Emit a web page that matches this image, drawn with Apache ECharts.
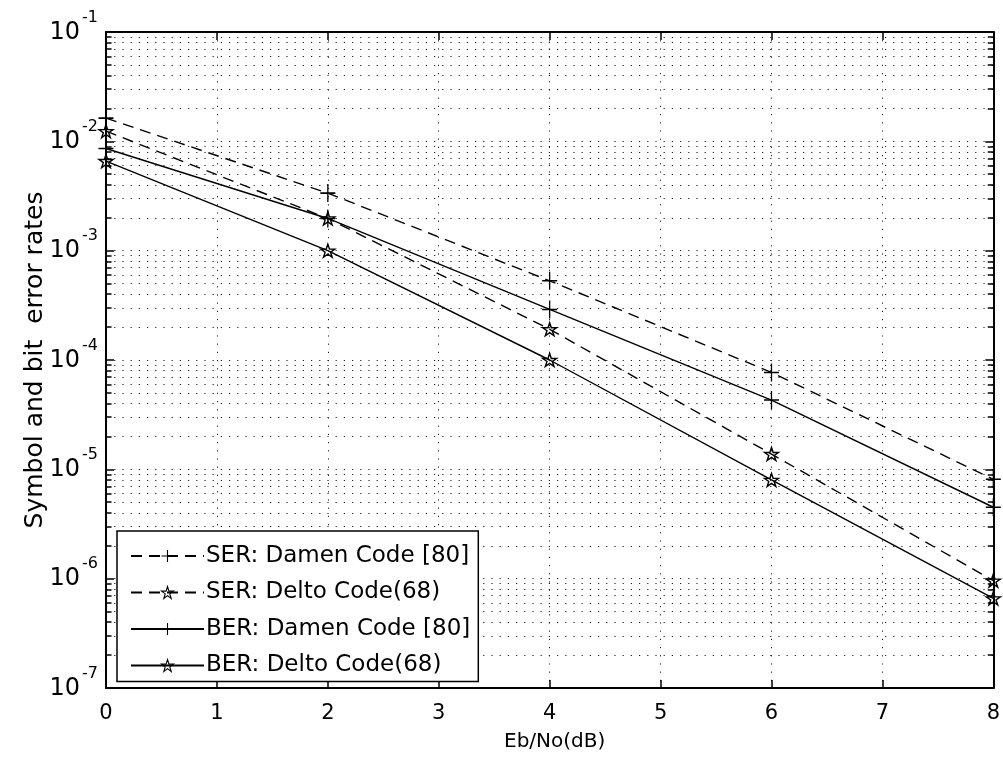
<!DOCTYPE html>
<html>
<head>
<meta charset="utf-8">
<script src="https://cdn.jsdelivr.net/npm/echarts@6/dist/echarts.min.js"></script>
<style>
html,body{margin:0;padding:0;background:#fff;}
#chart{width:1003px;height:760px;}
</style>
</head>
<body>
<div id="chart"></div>
<script>
// ---- data ----
const ebNo = [0, 2, 4, 6, 8];
const serDamen = [0.0163, 0.00336, 0.00053, 0.000077, 0.0000081];
const serDelto = [0.0124, 0.00197, 0.000191, 0.0000138, 0.00000096];
const berDamen = [0.0086, 0.00197, 0.00029, 0.000043, 0.0000045];
const berDelto = [0.0066, 0.00100, 0.000100, 0.0000080, 0.00000066];
const seriesNames = ['SER: Damen Code [80]', 'SER: Delto Code(68)', 'BER: Damen Code [80]', 'BER: Delto Code(68)'];
const xTickLabels = ['0','1','2','3','4','5','6','7','8'];
const yDecades = [-7, -6, -5, -4, -3, -2, -1];
const xTitle = 'Eb/No(dB)';
const yTitle = 'Symbol and bit  error rates';

// ---- helpers ----
const FONT = 'DejaVu Sans';
const plusPath = 'path://M50,0L50,100M0,50L100,50';
const starPath = 'path://M0,-100L22.45,-30.9L95.1,-30.9L36.3,11.8L58.8,80.9L0,38.2L-58.8,80.9L-36.3,11.8L-95.1,-30.9L-22.45,-30.9Z';

const minorVals = [];
for (let k = -7; k <= -2; k++) {
  for (let m = 2; m <= 9; m++) minorVals.push(+(m * Math.pow(10, k)).toPrecision(3));
}
const xMin = 0, xMax = 8;
const tickLenX = 0.05;

const gridMarkLines = minorVals.map(v => ({ yAxis: v }));
const tickMarkLines = [];
minorVals.forEach(v => {
  tickMarkLines.push([{ coord: [xMin, v] }, { coord: [xMin + tickLenX, v] }]);
  tickMarkLines.push([{ coord: [xMax - tickLenX, v] }, { coord: [xMax, v] }]);
});

function mkSeries(name, data, dashed, symbol, size) {
  return {
    name: name,
    type: 'line',
    data: ebNo.map((x, i) => [x, data[i]]),
    symbol: symbol,
    symbolSize: size,
    showAllSymbol: true,
    clip: false,
    z: 3,
    lineStyle: { color: '#000', width: 1.4, type: dashed ? [11, 7] : 'solid' },
    itemStyle: { color: 'rgba(0,0,0,0)', borderColor: '#000', borderWidth: 1.4 },
    emphasis: { disabled: true },
    animation: false
  };
}

const chart = echarts.init(document.getElementById('chart'), null, { renderer: 'canvas' });
const dotted = { color: '#222', width: 1, type: [1.2, 7] };

const option = {
  backgroundColor: '#fff',
  animation: false,
  textStyle: { fontFamily: FONT, color: '#000' },
  grid: { left: 106, right: 8, top: 32, bottom: 72, containLabel: false },
  legend: {
    orient: 'vertical',
    left: 117,
    top: 531,
    align: 'left',
    backgroundColor: '#fff',
    borderColor: '#000',
    borderWidth: 1.5,
    borderRadius: 0,
    padding: [12, 8, 3, 13],
    itemGap: 10.5,
    itemWidth: 73,
    itemHeight: 15,
    itemStyle: { borderWidth: 1.1 },
    textStyle: { fontFamily: FONT, fontSize: 23, lineHeight: 26, color: '#000', padding: [0, 0, 0, -3] },
    data: seriesNames,
    selectedMode: false
  },
  xAxis: [{
    type: 'value', min: xMin, max: xMax, interval: 1,
    axisLine: { show: true, lineStyle: { color: '#000', width: 2 } },
    axisTick: { show: true, inside: true, length: 8, lineStyle: { color: '#000', width: 1.5 } },
    axisLabel: { color: '#000', fontSize: 21, fontFamily: FONT, margin: 15,
      formatter: v => xTickLabels[Math.round(v)] },
    splitLine: { show: true, lineStyle: dotted },
    name: xTitle, nameLocation: 'middle', nameGap: 44,
    nameTextStyle: { fontSize: 20, color: '#000', fontFamily: FONT, padding: [0, 0, 0, 10] }
  }, {
    type: 'value', min: xMin, max: xMax, interval: 1, position: 'top',
    axisLine: { show: true, onZero: false, lineStyle: { color: '#000', width: 2 } },
    axisTick: { show: true, inside: true, length: 8, lineStyle: { color: '#000', width: 1.5 } },
    axisLabel: { show: false }, splitLine: { show: false }
  }],
  yAxis: [{
    type: 'log', logBase: 10, min: 1e-7, max: 1e-1, splitNumber: 6,
    axisLine: { show: true, lineStyle: { color: '#000', width: 2 } },
    axisTick: { show: true, inside: true, length: 8, lineStyle: { color: '#000', width: 1.5 } },
    axisLabel: {
      color: '#000', margin: 8, padding: [0, 0, 21, 0],
      formatter: v => '{a|10}{b|' + Math.round(Math.log10(v)) + '}',
      rich: {
        a: { fontSize: 24, lineHeight: 24, fontFamily: FONT, color: '#000', verticalAlign: 'top', padding: [11, 0, 0, 0] },
        b: { fontSize: 16, lineHeight: 16, fontFamily: FONT, color: '#000', verticalAlign: 'top', padding: [0, 0, 0, 2] }
      }
    },
    splitLine: { show: true, lineStyle: dotted },
    name: yTitle, nameLocation: 'middle', nameGap: 58, nameRotate: 90, nameMoveOverlap: false,
    nameTextStyle: { fontSize: 25, color: '#000', fontFamily: FONT }
  }, {
    type: 'log', logBase: 10, min: 1e-7, max: 1e-1, splitNumber: 6, position: 'right',
    axisLine: { show: true, onZero: false, lineStyle: { color: '#000', width: 2 } },
    axisTick: { show: true, inside: true, length: 8, lineStyle: { color: '#000', width: 1.5 } },
    axisLabel: { show: false }, splitLine: { show: false }
  }],
  series: [
    {
      name: '_grid', type: 'line', data: [], z: 1, silent: true,
      markLine: {
        silent: true, symbol: 'none', label: { show: false }, animation: false, z: 1,
        precision: 12,
        lineStyle: dotted, emphasis: { disabled: true },
        data: gridMarkLines
      }
    },
    {
      name: '_ticks', type: 'line', data: [], z: 4, silent: true,
      markLine: {
        silent: true, symbol: 'none', label: { show: false }, animation: false, z: 4,
        precision: 12,
        lineStyle: { color: '#000', width: 1.5, type: 'solid' }, emphasis: { disabled: true },
        data: tickMarkLines
      }
    },
    mkSeries(seriesNames[0], serDamen, true, plusPath, [15, 18]),
    mkSeries(seriesNames[1], serDelto, true, starPath, [14, 13]),
    mkSeries(seriesNames[2], berDamen, false, plusPath, [15, 18]),
    mkSeries(seriesNames[3], berDelto, false, starPath, [14, 13])
  ]
};
chart.setOption(option);
</script>
</body>
</html>
